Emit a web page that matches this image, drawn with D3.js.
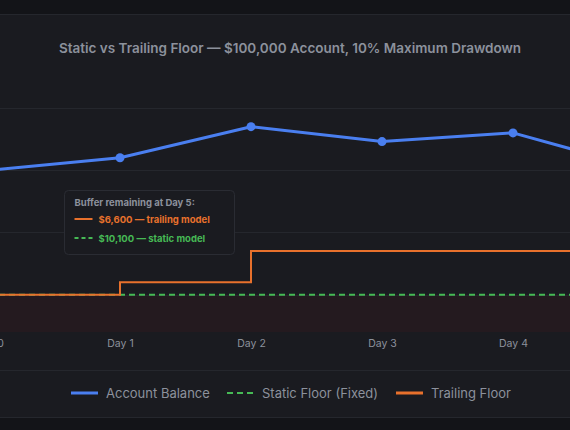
<!DOCTYPE html>
<html lang="en">
<head>
<meta charset="UTF-8">
<title>Static vs Trailing Floor</title>
<script src="https://d3js.org/d3.v7.min.js"></script>
<style>
    html, body { margin: 0; padding: 0; background: #131418; }
    svg text { font-family: Inter, "Noto Sans", sans-serif; }
</style>
</head>
<body>
<script>
    // data
    var days = ["Day 0", "Day 1", "Day 2", "Day 3", "Day 4", "Day 5"];
    var balance = [100000, 101000, 103500, 102300, 103000, 100100];
    var staticFloor = [90000, 90000, 90000, 90000, 90000, 90000];
    var trailingFloor = [90000, 91000, 93500, 93500, 93500, 93500];
    var yTicks = [90000, 95000, 100000, 105000];

    var width = 570, height = 430;
    var blue = "#4a7ff0", green = "#46b955", orange = "#e8712c", grey = "#8c919c";

    var svg = d3.select("body").append("svg")
        .attr("width", width)
        .attr("height", height);

    // page + card
    svg.append("rect").attr("width", width).attr("height", height).attr("fill", "#131418");
    svg.append("rect").attr("x", -2).attr("y", 14.5).attr("width", width + 4).attr("height", 403)
        .attr("fill", "#1a1b20").attr("stroke", "#25272d");
    svg.append("line").attr("x1", 0).attr("x2", width).attr("y1", 370.5).attr("y2", 370.5)
        .attr("stroke", "#25272d");

    svg.append("text")
        .attr("x", 290).attr("y", 53)
        .attr("text-anchor", "middle")
        .attr("fill", grey)
        .style("font-size", "13.5px").style("font-weight", 600)
        .text("Static vs Trailing Floor \u2014 $100,000 Account, 10% Maximum Drawdown");

    var x = d3.scalePoint().domain(days).range([-11, 644]);
    var y = d3.scaleLinear().domain([87000, 105000]).range([332, 108]);

    // breach zone under the static floor
    svg.append("rect")
        .attr("x", 0).attr("width", width)
        .attr("y", y(staticFloor[0]))
        .attr("height", y(87000) - y(staticFloor[0]))
        .attr("fill", "#241a1f");

    // grid
    svg.append("g").selectAll("line").data(yTicks).enter().append("line")
        .attr("x1", 0).attr("x2", width)
        .attr("y1", function (d) { return Math.round(y(d)) + 0.5; })
        .attr("y2", function (d) { return Math.round(y(d)) + 0.5; })
        .attr("stroke", "#25272d");

    // x axis labels
    var xAxis = d3.axisBottom(x).tickSize(0).tickPadding(0);
    var gx = svg.append("g").attr("transform", "translate(0,340)").call(xAxis);
    gx.select(".domain").remove();
    gx.selectAll("text").attr("fill", grey).style("font-size", "10.5px").attr("dy", "0.71em");

    var line = d3.line()
        .x(function (d, i) { return x(days[i]); })
        .y(function (d) { return y(d); });

    svg.append("path").datum(staticFloor)
        .attr("d", line)
        .attr("fill", "none").attr("stroke", green)
        .attr("stroke-width", 2).attr("stroke-dasharray", "6,4");

    svg.append("path").datum(trailingFloor)
        .attr("d", line.curve(d3.curveStepAfter))
        .attr("fill", "none").attr("stroke", orange)
        .attr("stroke-width", 2);

    line.curve(d3.curveLinear);
    svg.append("path").datum(balance)
        .attr("d", line)
        .attr("fill", "none").attr("stroke", blue)
        .attr("stroke-width", 3).attr("stroke-linejoin", "round");

    svg.append("g").selectAll("circle").data(balance).enter().append("circle")
        .attr("cx", function (d, i) { return x(days[i]); })
        .attr("cy", function (d) { return y(d); })
        .attr("r", 4.5)
        .attr("fill", blue);

    // buffer note
    var last = days.length - 1;
    var fmt = d3.format("$,");
    var note = svg.append("g").attr("transform", "translate(64.5,190.5)");
    note.append("rect").attr("width", 170).attr("height", 64).attr("rx", 4)
        .attr("fill", "#1a1b20").attr("stroke", "#2a2c33");
    note.append("text").attr("x", 10).attr("y", 15)
        .attr("fill", grey).style("font-size", "9.5px").style("font-weight", 700)
        .text("Buffer remaining at " + days[last] + ":");
    note.append("line").attr("x1", 10).attr("x2", 28).attr("y1", 28.5).attr("y2", 28.5)
        .attr("stroke", orange).attr("stroke-width", 2);
    note.append("text").attr("x", 34).attr("y", 32)
        .attr("fill", orange).style("font-size", "9.5px").style("font-weight", 700)
        .text(fmt(balance[last] - trailingFloor[last]) + " \u2014 trailing model");
    note.append("line").attr("x1", 10).attr("x2", 29).attr("y1", 47.5).attr("y2", 47.5)
        .attr("stroke", green).attr("stroke-width", 2).attr("stroke-dasharray", "4,3");
    note.append("text").attr("x", 34).attr("y", 51)
        .attr("fill", green).style("font-size", "9.5px").style("font-weight", 700)
        .text(fmt(balance[last] - staticFloor[last]) + " \u2014 static model");

    // legend
    var legendItems = [
        { label: "Account Balance", color: blue, dash: null, x: 71 },
        { label: "Static Floor (Fixed)", color: green, dash: "6,4", x: 227 },
        { label: "Trailing Floor", color: orange, dash: null, x: 396 }
    ];
    var leg = svg.append("g").selectAll("g").data(legendItems).enter().append("g")
        .attr("transform", function (d) { return "translate(" + d.x + ",393)"; });
    leg.append("line").attr("x1", 0).attr("x2", 27)
        .attr("stroke", function (d) { return d.color; })
        .attr("stroke-width", function (d) { return d.dash ? 2 : 3; })
        .attr("stroke-dasharray", function (d) { return d.dash; });
    leg.append("text").attr("x", 35).attr("y", 4.5)
        .attr("fill", grey).style("font-size", "13px")
        .text(function (d) { return d.label; });
</script>
</body>
</html>
